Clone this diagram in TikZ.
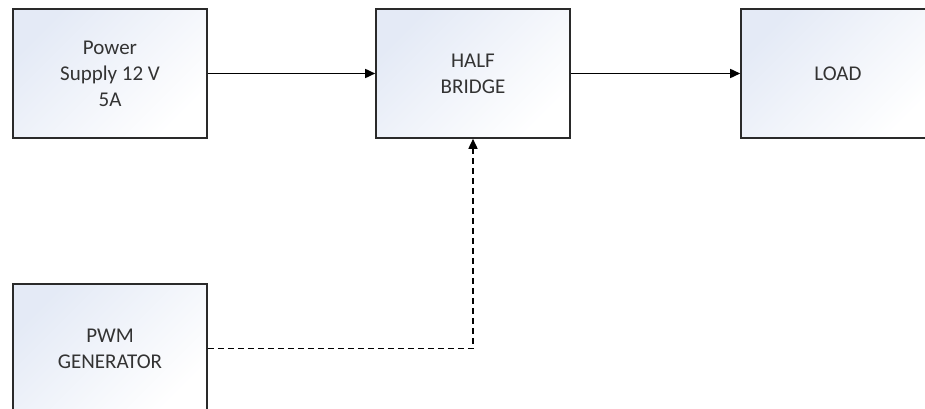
\documentclass[tikz,border=0pt]{standalone}
\usepackage{fontspec}
\setmainfont{Carlito}
\usetikzlibrary{arrows.meta,positioning}
\definecolor{boxblue}{HTML}{E4EAF6}
\definecolor{edge}{HTML}{2A2A2A}
\tikzset{
  blockbox/.style={draw=edge, line width=1.6pt, minimum width=194pt, minimum height=129pt,
    top color=boxblue, bottom color=white, shading angle=45,
    align=center, font=\fontsize{21}{26}\selectfont, text=black!80, inner sep=0pt},
  flow/.style={line width=1.6pt, -{Triangle[length=10pt,width=9pt]}},
  ctrl/.style={flow, dash pattern=on 6pt off 4pt},
}
\begin{document}
\begin{tikzpicture}[x=1pt,y=-1pt]
\useasboundingbox (0,0) rectangle (925,409);
\fill[white] (0,0) rectangle (925,409);
\clip (0,0) rectangle (925,409);
\node[blockbox] (ps) at (110,73.5) {Power\\Supply 12 V\\5A};
\node[blockbox] (hb) at (473,73.5) {HALF\\BRIDGE};
\node[blockbox] (ld) at (838,73.5) {LOAD};
\node[blockbox] (pwm) at (110,348.5) {PWM\\GENERATOR};
\draw[flow] (ps.east) -- (hb.west);
\draw[flow] (hb.east) -- (ld.west);
\draw[ctrl] (pwm.east) -| (hb.south);
\end{tikzpicture}
\end{document}
